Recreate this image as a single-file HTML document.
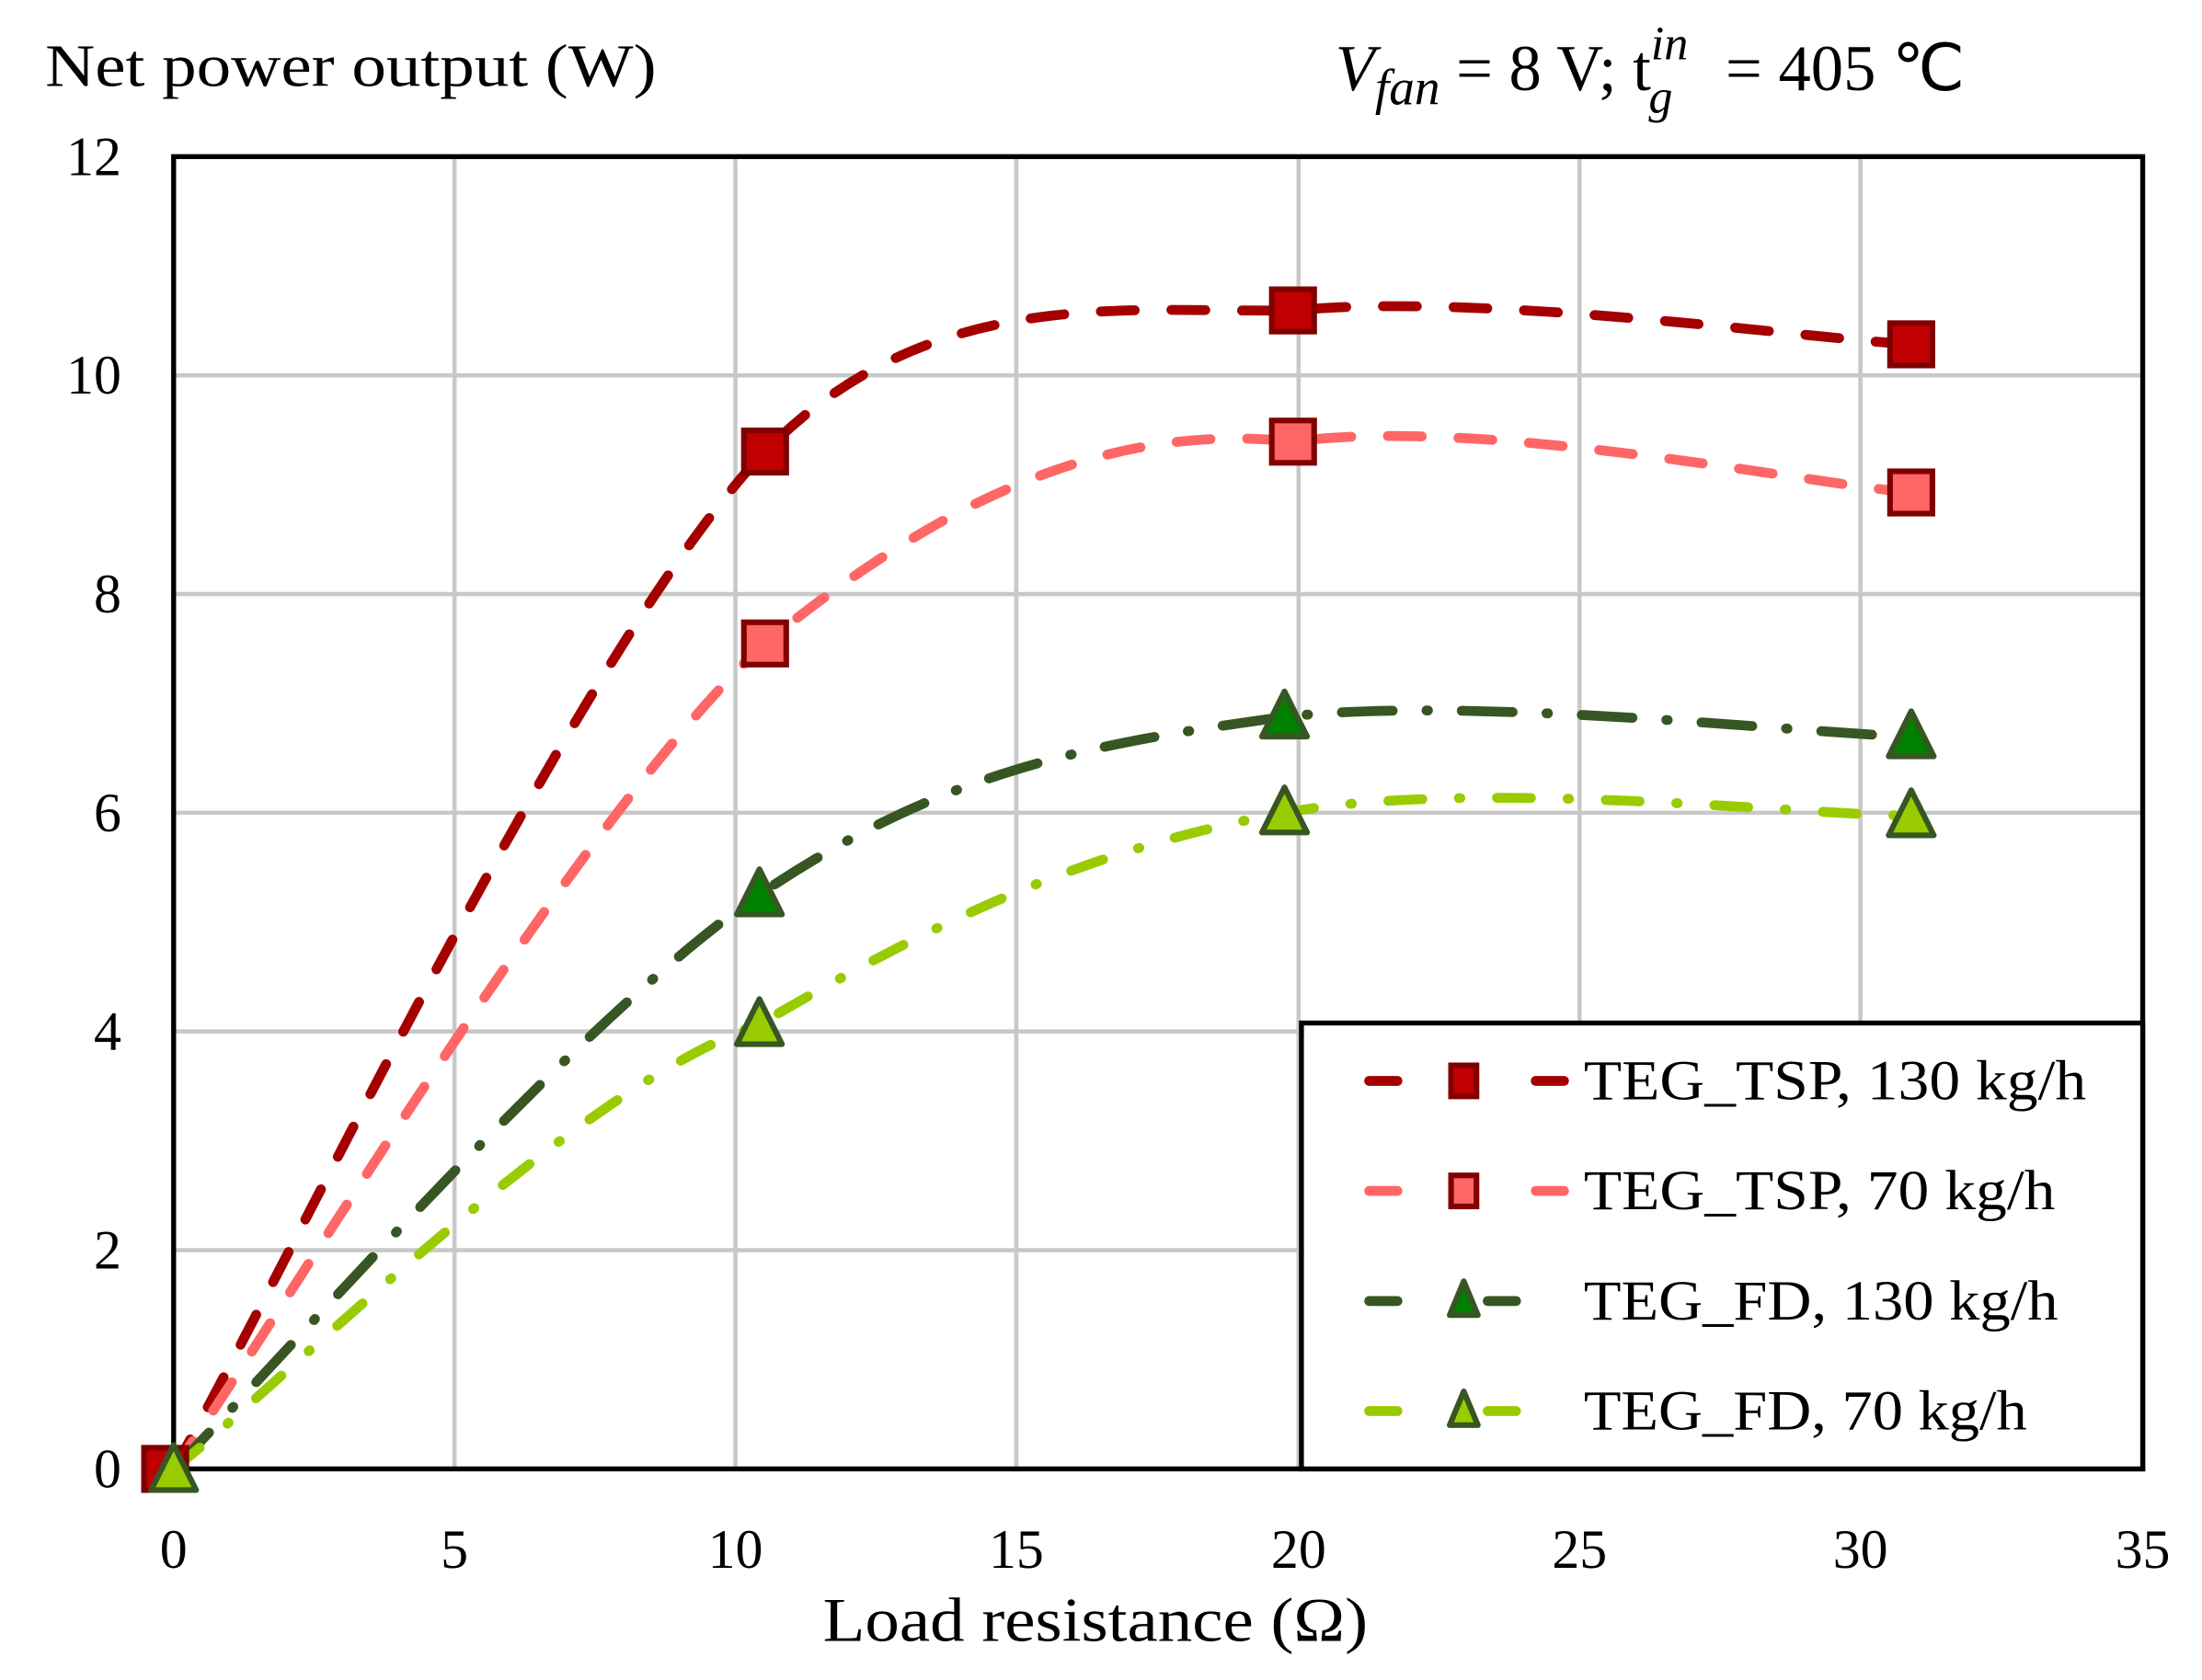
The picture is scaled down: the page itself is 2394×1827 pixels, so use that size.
<!DOCTYPE html>
<html><head><meta charset="utf-8"><style>html,body{margin:0;padding:0;background:#fff}svg{display:block}</style></head>
<body>
<svg width="2394" height="1827" viewBox="0 0 1560 1190.6" preserveAspectRatio="none" xmlns="http://www.w3.org/2000/svg" font-family="'Liberation Serif', serif">
<rect width="1560" height="1191" fill="#fff"/>
<g stroke="#c8c8c8" stroke-width="3">
<line x1="322" y1="111" x2="322" y2="1041"/><line x1="521" y1="111" x2="521" y2="1041"/><line x1="720" y1="111" x2="720" y2="1041"/><line x1="920" y1="111" x2="920" y2="1041"/><line x1="1119" y1="111" x2="1119" y2="1041"/><line x1="1318" y1="111" x2="1318" y2="1041"/>
<line x1="123" y1="886" x2="1518" y2="886"/><line x1="123" y1="731" x2="1518" y2="731"/><line x1="123" y1="576" x2="1518" y2="576"/><line x1="123" y1="421" x2="1518" y2="421"/><line x1="123" y1="266" x2="1518" y2="266"/>
</g>
<rect x="123" y="111" width="1395" height="930" fill="none" stroke="#000" stroke-width="3.5"/>
<g font-size="39" fill="#000" text-anchor="end">
<text x="86" y="1054">0</text><text x="86" y="899">2</text><text x="86" y="744">4</text><text x="86" y="589">6</text><text x="86" y="434">8</text><text x="86" y="279">10</text><text x="86" y="124">12</text>
</g>
<g font-size="39" fill="#000" text-anchor="middle">
<text x="123" y="1111">0</text><text x="322" y="1111">5</text><text x="521" y="1111">10</text><text x="720" y="1111">15</text><text x="920" y="1111">20</text><text x="1119" y="1111">25</text><text x="1318" y="1111">30</text><text x="1518" y="1111">35</text>
</g>
<text x="776" y="1163" font-size="44" text-anchor="middle" textLength="386" lengthAdjust="spacingAndGlyphs">Load resistance (Ω)</text>
<text x="32" y="61" font-size="43" textLength="433" lengthAdjust="spacingAndGlyphs">Net power output (W)</text>
<text x="946" y="64" font-size="46"><tspan font-style="italic">V</tspan><tspan font-style="italic" font-size="36" dy="10">fan</tspan><tspan dy="-10"> = 8 V;     t</tspan><tspan font-style="italic" font-size="34" dy="-22">in</tspan><tspan font-style="italic" font-size="34" dx="-28" dy="38">g</tspan><tspan dy="-16" dx="26"> = 405 ℃</tspan></text>
<g fill="none" stroke-linecap="round" stroke-width="7">
<path d="M123,1041 C193,921 410,457 542,320 C660,200 800,222 916,220 C1051,207 1281,240 1354,244" stroke="#a50000" stroke-dasharray="24,26"/>
<path d="M123,1041 C193,943 410,577 542,456 C660,360 780,298 916,313 C1051,295 1281,343 1354,349" stroke="#ff6666" stroke-dasharray="24,26"/>
<path d="M123,1041 C192,973 407,723 538,634 C669,545 774,527 910,508 C1046,493 1280,520 1354,522" stroke="#375623" stroke-dasharray="36,24,1,24"/>
<path d="M123,1041 C192,988 407,770 538,726 C669,649 774,601 910,576 C1046,551 1280,578 1354,578" stroke="#99cc00" stroke-dasharray="24,26,1,26"/>
</g>
<g stroke="#800000" stroke-width="4">
<rect x="102" y="1026" width="30" height="30" fill="#c00000"/>
<rect x="527" y="305" width="30" height="30" fill="#c00000"/>
<rect x="901" y="205" width="30" height="30" fill="#c00000"/>
<rect x="1339" y="229" width="30" height="30" fill="#c00000"/>
<rect x="527" y="441" width="30" height="30" fill="#ff6666"/>
<rect x="901" y="298" width="30" height="30" fill="#ff6666"/>
<rect x="1339" y="334" width="30" height="30" fill="#ff6666"/>
</g>
<g stroke="#375623" stroke-width="4" stroke-linejoin="round">
<polygon points="538,616 554,648 522,648" fill="#008000"/>
<polygon points="910,490 926,522 894,522" fill="#008000"/>
<polygon points="1354,504 1370,536 1338,536" fill="#008000"/>
<polygon points="538,708 554,740 522,740" fill="#99cc00"/>
<polygon points="910,558 926,590 894,590" fill="#99cc00"/>
<polygon points="1354,560 1370,592 1338,592" fill="#99cc00"/>
<polygon points="123,1024 139,1056 107,1056" fill="#99cc00"/>
</g>
<rect x="922" y="725" width="596" height="316" fill="#fff" stroke="#000" stroke-width="3.5"/>
<g stroke-width="7" stroke-linecap="round">
<line x1="970" y1="766" x2="990" y2="766" stroke="#a50000"/><line x1="1088" y1="766" x2="1108" y2="766" stroke="#a50000"/>
<line x1="970" y1="844" x2="990" y2="844" stroke="#ff6666"/><line x1="1088" y1="844" x2="1108" y2="844" stroke="#ff6666"/>
<line x1="970" y1="922" x2="990" y2="922" stroke="#375623"/><line x1="1054" y1="922" x2="1074" y2="922" stroke="#375623"/>
<line x1="970" y1="1000" x2="990" y2="1000" stroke="#99cc00"/><line x1="1054" y1="1000" x2="1074" y2="1000" stroke="#99cc00"/>
</g>
<rect x="1028" y="755" width="18" height="22" fill="#c00000" stroke="#800000" stroke-width="4"/>
<rect x="1028" y="833" width="18" height="22" fill="#ff6666" stroke="#800000" stroke-width="4"/>
<polygon points="1037,908 1047,932 1027,932" fill="#008000" stroke="#375623" stroke-width="4" stroke-linejoin="round"/>
<polygon points="1037,986 1047,1010 1027,1010" fill="#99cc00" stroke="#375623" stroke-width="4" stroke-linejoin="round"/>
<g font-size="40" fill="#000">
<text x="1122" y="779" textLength="356" lengthAdjust="spacingAndGlyphs">TEG_TSP, 130 kg/h</text>
<text x="1122" y="857" textLength="334" lengthAdjust="spacingAndGlyphs">TEG_TSP, 70 kg/h</text>
<text x="1122" y="935" textLength="336" lengthAdjust="spacingAndGlyphs">TEG_FD, 130 kg/h</text>
<text x="1122" y="1013" textLength="314" lengthAdjust="spacingAndGlyphs">TEG_FD, 70 kg/h</text>
</g>
</svg>
</body></html>
